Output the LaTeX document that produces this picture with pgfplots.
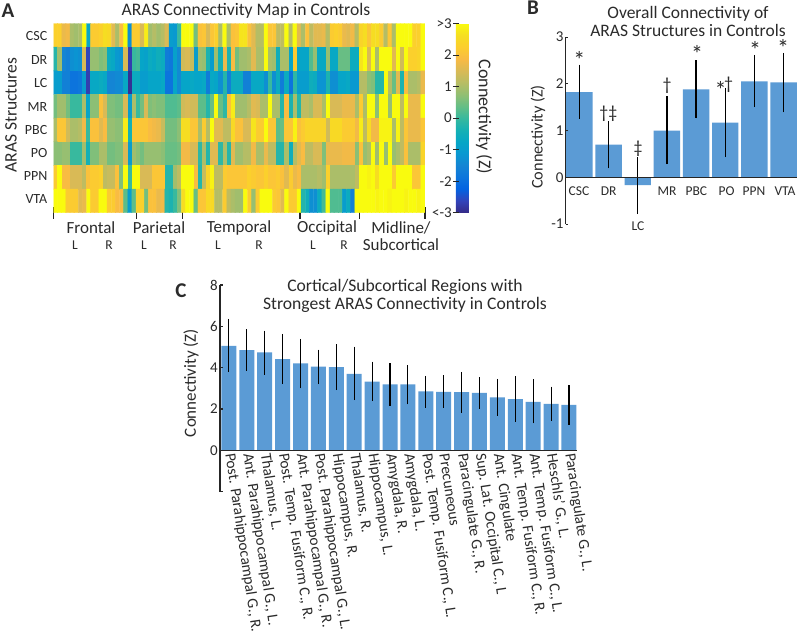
\documentclass[border=0pt]{standalone}
\usepackage{fontspec}
\setmainfont{Carlito}
\usepackage{pgfplots}
\usepackage{pgfplotstable}
\pgfplotsset{compat=1.18}
\definecolor{barblue}{HTML}{5B9BD5}
\definecolor{txt}{HTML}{2B2B2B}
\pgfplotsset{colormap={parula}{
 rgb=(.2081,.1663,.5292) rgb=(.1959,.2645,.7279) rgb=(.0117,.3875,.8820) rgb=(.0498,.4586,.8641)
 rgb=(.0793,.5200,.8312) rgb=(.0343,.5966,.8199) rgb=(.0228,.6535,.7768) rgb=(.0843,.6928,.7062)
 rgb=(.2178,.7250,.6193) rgb=(.3953,.7459,.5244) rgb=(.5709,.7485,.4494) rgb=(.7184,.7411,.3905)
 rgb=(.8507,.7299,.3360) rgb=(.9739,.7314,.2666) rgb=(.9880,.8066,.1794) rgb=(.9626,.8705,.1309)
 rgb=(.9763,.9831,.0538)}}
% overall connectivity per structure
\pgfplotstableread{
x y ep em
0 1.82 .59 .57
1 .70 .50 .51
2 -.17 .60 .62
3 1.00 .73 .72
4 1.88 .62 .62
5 1.17 .74 .74
6 2.05 .57 .55
7 2.03 .63 .64
}\tabB
% strongest regions
\pgfplotstableread{
x y ep em
0 5.06 1.30 1.27
1 4.85 1.01 1.00
2 4.74 1.05 1.08
3 4.42 1.21 1.22
4 4.21 1.18 1.21
5 4.05 .82 .85
6 4.03 1.10 1.12
7 3.70 1.32 1.27
8 3.33 .96 .95
9 3.19 1.03 1.04
10 3.19 .92 .96
11 2.85 .76 .78
12 2.83 .81 .78
13 2.82 .98 1.01
14 2.78 .76 .76
15 2.56 .90 .89
16 2.48 1.10 1.10
17 2.35 1.08 1.04
18 2.25 .84 .81
19 2.20 .97 .97
}\tabC
\begin{document}
\begin{tikzpicture}[x=1pt,y=-1pt,every node/.style={text=txt}]
\path[use as bounding box,fill=white] (0,0) rectangle (800,635);

% A: heatmap, 8 structures x 90 regions
\begin{axis}[
  at={(53.5pt,-212.7pt)},anchor=south west,
  scale only axis,width=371.5pt,height=189.2pt,
  xmin=-.5,xmax=89.5,ymin=-.5,ymax=7.5,y dir=reverse,
  axis line style={draw=none},
  ytick=\empty,
  xtick={-.5,19.7,30.8,59.2,73.7,89.5},xticklabels={},
  tick style={black!85,line width=1.2pt},major tick length=12pt,tick align=center,
  xtick pos=bottom,
  point meta min=-3,point meta max=3,
  colorbar,
  colorbar style={
    at={(1.0834,1)},anchor=north west,
    scale only axis,width=13pt,height=189.2pt,
    axis line style={draw=none},
    ytick={-3,-2,-1,0,1,2,3},
    yticklabels={<-3,-2,-1,0,1,2,>3},
    yticklabel pos=left,
    tick align=center,major tick length=6pt,
    tick style={black!85,line width=1pt},
    ytick pos=left,
    yticklabel style={font=\fontsize{15}{15}\selectfont,text=txt,inner sep=1pt},
  },
]
\addplot[matrix plot*,point meta=explicit,mesh/cols=90,mesh/ordering=x varies]
 table[header=false,row sep=\\,meta index=0,x expr={mod(\coordindex,90)},y expr={int((\coordindex+.5)/90)}] {
2.3\\2.3\\1.7\\1.8\\1.0\\.9\\1.0\\3\\-.7\\2.2\\2.2\\2.3\\2.6\\2.5\\1.6\\1.0\\1.9\\3\\-1.3\\2.2\\2.2\\1.5\\2.8\\.9\\1.1\\.9\\1.1\\1.5\\-1.0\\-1.1\\
0\\3\\3\\3\\.5\\2.0\\2.1\\1.5\\2.1\\2.3\\1.0\\3\\1.0\\2.0\\2.1\\2.7\\2.7\\2.0\\1.6\\1.1\\1.1\\3\\2.1\\2.1\\1.2\\1.2\\3\\1.1\\3\\1.6\\
1.0\\2.0\\1.2\\1.6\\1.6\\1.7\\1.1\\2.2\\2.3\\2.2\\1.7\\1.6\\1.8\\1.1\\2.4\\2.6\\2.1\\2.6\\2.6\\2.2\\1.1\\2.1\\1.0\\3\\3\\3\\3\\2.3\\2.3\\3\\
-.2\\.9\\-1.5\\-1.6\\-1.3\\-1.2\\-1.3\\1.5\\-2.6\\.8\\.8\\.6\\.7\\-.6\\-.7\\-1.1\\-1.2\\1.5\\-2.7\\0\\.1\\-.8\\-.9\\-.6\\-.7\\-.5\\-.6\\-1.7\\-1.8\\-.9\\
-1.4\\1.4\\1.5\\1.3\\-1.0\\.9\\.8\\-.3\\-1.0\\.9\\-.4\\1.7\\-.3\\1.9\\.5\\.9\\.9\\1.0\\1.6\\1.0\\1.0\\3\\1.0\\.9\\-.5\\1.0\\1.0\\-.8\\2.2\\-.8\\
-.8\\-.8\\.2\\.8\\-.7\\-.7\\.8\\-.7\\-.7\\.4\\.4\\.4\\-.6\\-.6\\2.7\\3\\1.5\\3\\1.0\\3\\3\\3\\1.6\\3\\1.4\\3\\2.3\\2.3\\2.4\\3\\
-1.0\\-1.0\\-1.6\\-1.6\\-1.9\\-1.9\\-1.8\\-1.0\\-2.7\\-.7\\-.7\\-.6\\-.7\\-1.5\\-1.5\\-1.4\\-1.4\\-.7\\-2.9\\-.6\\-.6\\-1.0\\-1.0\\-.8\\-.8\\-.8\\-.7\\-1.9\\-1.9\\-.8\\
-1.4\\-.8\\-.8\\-.7\\-.8\\-.8\\-.7\\-1.7\\-.7\\-.8\\-1.3\\-.2\\-1.6\\-.6\\-.6\\-.6\\-1.6\\-1.6\\-.7\\-.7\\-.7\\-1.3\\0\\-1.3\\-.6\\-1.7\\-.6\\-1.9\\-.1\\-1.0\\
-1.0\\-1.0\\-.5\\-.6\\-1.2\\-1.2\\-.3\\-1.3\\-1.3\\-.8\\-.8\\-.7\\-1.1\\-1.1\\1.1\\1.1\\.7\\.6\\-.2\\-.2\\3\\1.1\\.4\\1.6\\-.3\\1.9\\1.0\\1.0\\1.1\\1.7\\
.5\\.9\\.9\\.5\\0\\0\\0\\1.0\\-.8\\.7\\.7\\2.0\\1.5\\.6\\.6\\.5\\.5\\1.5\\-1.0\\1.0\\0\\.5\\1.5\\.6\\.7\\.6\\.6\\.2\\.2\\.2\\
.3\\1.4\\1.5\\1.4\\1.4\\.3\\.3\\-.2\\.4\\3\\.4\\-.1\\2.0\\2.8\\.9\\.9\\.9\\1.1\\1.6\\1.5\\1.0\\1.0\\3\\1.0\\1.0\\-.2\\1.9\\-.3\\1.0\\-.2\\
1.2\\1.2\\1.0\\1.5\\1.5\\1.0\\3\\1.5\\1.5\\1.5\\1.7\\1.7\\1.7\\1.0\\2.2\\1.0\\3\\3\\.7\\3\\3\\.8\\3\\3\\1.2\\3\\1.7\\1.7\\1.7\\3\\
1.0\\2.1\\2.1\\1.4\\1.0\\1.0\\1.1\\1.8\\0\\2.0\\2.0\\1.6\\1.9\\.8\\.8\\.7\\.7\\2.8\\-.4\\2.1\\2.1\\2.1\\2.1\\1.9\\1.8\\1.7\\1.3\\.5\\.5\\.5\\
.7\\2.6\\2.6\\2.1\\2.1\\1.0\\2.2\\1.1\\3\\1.6\\1.6\\1.2\\1.2\\2.5\\2.0\\2.0\\1.5\\1.5\\2.7\\2.2\\2.2\\3\\2.1\\2.1\\.3\\.4\\2.1\\2.1\\2.9\\2.0\\
2.2\\2.4\\2.4\\2.4\\2.4\\2.4\\1.4\\2.5\\2.5\\2.5\\2.2\\2.2\\2.2\\1.8\\2.8\\1.2\\2.6\\1.8\\1.8\\2.9\\2.9\\2.9\\1.0\\2.9\\1.2\\2.1\\1.7\\1.7\\1.7\\2.1\\
.7\\.7\\.8\\.8\\0\\0\\0\\.9\\-.4\\.6\\.6\\1.0\\1.0\\.5\\.5\\.6\\.6\\1.5\\-1.0\\.9\\.7\\.5\\.8\\.8\\.8\\.8\\.7\\.4\\.4\\.4\\
.5\\1.8\\1.8\\1.5\\1.5\\-.1\\1.0\\-.2\\1.6\\1.6\\-.1\\1.0\\-.2\\1.6\\.9\\.9\\1.1\\1.1\\1.8\\1.0\\1.0\\1.7\\1.2\\1.2\\-.2\\-.2\\1.0\\-.5\\1.1\\1.6\\
1.9\\1.2\\1.2\\1.5\\1.5\\.6\\1.7\\1.7\\1.7\\1.7\\1.8\\1.8\\1.8\\.7\\2.0\\.8\\1.0\\3\\.9\\3\\.8\\3\\.8\\1.0\\1.2\\2.0\\1.0\\1.0\\1.0\\2.4\\
2.2\\3\\1.9\\1.9\\1.5\\1.5\\1.5\\1.2\\2.0\\2.2\\2.2\\2.3\\1.2\\1.3\\1.3\\2.0\\.6\\3\\0\\3\\3\\1.5\\1.5\\1.5\\2.1\\2.1\\2.1\\-.2\\-.2\\.9\\
1.2\\3\\3\\3\\1.9\\-.2\\1.3\\2.4\\2.9\\1.2\\1.2\\2.2\\2.1\\2.1\\2.1\\2.1\\2.1\\2.3\\2.2\\2.1\\2.1\\2.3\\2.1\\2.1\\2.2\\2.0\\1.6\\2.2\\1.7\\1.9\\
1.0\\1.0\\1.0\\1.0\\1.1\\.9\\2.3\\1.0\\1.0\\1.0\\1.0\\1.0\\1.0\\1.2\\3\\3\\2.9\\3\\2.6\\3\\3\\3\\2.2\\3\\3\\3\\3\\2.1\\2.1\\3\\
3\\3\\3\\2.2\\2.2\\2.2\\1.6\\1.7\\3\\2.2\\2.2\\3\\3\\2.2\\2.2\\1.9\\1.9\\.3\\-1.0\\.3\\2.3\\2.3\\.5\\2.0\\2.0\\1.7\\1.8\\-.2\\-.3\\0\\
.6\\2.6\\3\\3\\.4\\2.1\\2.1\\2.5\\2.5\\1.1\\1.1\\2.2\\1.2\\1.0\\.9\\.9\\3\\2.2\\.8\\2.2\\3\\3\\3\\2.2\\2.1\\1.6\\3\\2.2\\2.2\\3\\
-.2\\-.5\\-1.3\\-1.3\\-.6\\.1\\3\\.2\\.2\\.2\\-1.0\\-.6\\-1.6\\3\\3\\3\\3\\3\\2.9\\3\\3\\2.9\\3\\3\\3\\2.9\\3\\3\\2.9\\3\\
};
\end{axis}

% B: overall connectivity
\begin{axis}[
  at={(565.7pt,-224pt)},anchor=south west,
  scale only axis,width=231.6pt,height=187pt,
  xmin=-.47,xmax=7.47,ymin=-1,ymax=3,
  axis y line=left,axis x line=middle,
  axis line style={-,black!85,line width=1.2pt},
  xtick=\empty,
  ytick={-1,0,1,2,3},yticklabels={-1,0,1,2,3},
  yticklabel style={font=\fontsize{15}{15}\selectfont,text=txt,inner sep=2pt},
  tick style={black!85,line width=1pt},major tick length=2.5pt,tick align=inside,
  axis on top,clip=false,
]
\addplot[ybar,bar width=26.4pt,bar shift=0pt,fill=barblue,draw=none,
  error bars/.cd,y dir=both,y explicit,error mark=none,
  error bar style={black,line width=1.3pt}]
  table[x=x,y=y,y error plus=ep,y error minus=em] {\tabB};
\end{axis}
\foreach \lx/\ly/\t in {579/190.7/CSC,608.7/190.7/DR,638/226/LC,667/190.7/MR,696.3/190.7/PBC,726.5/190.7/PO,754/190.7/PPN,785/190.7/VTA}
  \node[font=\fontsize{13.5}{13.5}\selectfont] at (\lx,\ly) {\t};
\foreach \lx/\ly/\t in {608.3/114/†‡,638/149/‡,667/86/†,728.5/85/†}
  \node[font=\fontsize{18}{18}\selectfont,inner sep=0pt] at (\lx,\ly) {\t};
\foreach \lx/\ly in {579.3/60,697/54,720.5/90,755/50,783/48}
  \node[font=\fontsize{24}{24}\selectfont,inner sep=0pt] at (\lx,\ly) {*};

% C: strongest regions
\begin{axis}[
  at={(220pt,-491.7pt)},anchor=south west,
  scale only axis,width=357pt,height=206.7pt,
  xmin=-.5,xmax=19.45,ymin=-2,ymax=8,
  axis y line=left,axis x line=middle,
  axis line style={-,black!85,line width=1.4pt},
  xtick={0,...,19},
  xticklabels={{Post. Parahippocampal G., R.},{Ant. Parahippocampal G., L.},{Thalamus, L.},{Post. Temp. Fusiform C., R.},{Ant. Parahippocampal G., R.},{Post. Parahippocampal G., L.},{Hippocampus, R.},{Thalamus, R.},{Hippocampus, L.},{Amygdala, R.},{Amygdala, L.},{Post. Temp. Fusiform C., L.},{Precuneous},{Paracingulate G., R.},{Sup. Lat. Occipital C., L},{Ant. Cingulate},{Ant. Temp. Fusiform C., R.},{Ant. Temp. Fusiform C., L.},{Heschls' G., L.},{Paracingulate G., L.}},
  xticklabel style={rotate=-81.5,anchor=west,inner sep=0pt,font=\fontsize{15.4}{15.4}\selectfont,text=txt,xshift=3pt},
  x tick style={draw=none},
  ytick={-2,0,2,4,6,8},yticklabels={,0,2,4,6,8},
  yticklabel style={font=\fontsize{15}{15}\selectfont,text=txt,inner sep=2pt},
  y tick style={black!85,line width=1.2pt},major tick length=3pt,tick align=inside,
  axis on top,clip=false,
]
\addplot[ybar,bar width=15pt,bar shift=0pt,fill=barblue,draw=none,
  error bars/.cd,y dir=both,y explicit,error mark=none,
  error bar style={black,line width=1.1pt}]
  table[x=x,y=y,y error plus=ep,y error minus=em] {\tabC};
\end{axis}

% text
\node[font=\fontsize{17.6}{17.6}\selectfont] at (246,11) {ARAS Connectivity Map in Controls};
\node[font=\bfseries\fontsize{21}{21}\selectfont] at (8,11) {A};
\node[font=\bfseries\fontsize{21}{21}\selectfont] at (533,8) {B};
\node[font=\bfseries\fontsize{21}{21}\selectfont] at (181,291) {C};
\node[font=\fontsize{17.5}{17.5}\selectfont,rotate=90] at (11,115) {ARAS Structures};
\foreach \ly/\t in {36/CSC,60/DR,83.5/LC,107/MR,130.5/PBC,153.5/PO,176/PPN,199.5/VTA}
  \node[font=\fontsize{14}{14}\selectfont,anchor=east,inner sep=0pt] at (47.5,\ly) {\t};
\foreach \lx/\t in {91/Frontal,159/Parietal,239/Temporal,327/Occipital}
  \node[font=\fontsize{17}{17}\selectfont] at (\lx,228) {\t};
\node[font=\fontsize{17}{17}\selectfont] at (401,228) {Midline/};
\node[font=\fontsize{17}{17}\selectfont] at (401,245) {Subcortical};
\foreach \lx/\t in {75/L,109/R,144/L,173/R,218/L,259/R,313/L,344/R}
  \node[font=\fontsize{13.5}{13.5}\selectfont] at (\lx,245) {\t};
\node[font=\fontsize{18}{18}\selectfont,rotate=-90] at (484,117) {Connectivity (Z)};
\node[font=\fontsize{17.5}{17.5}\selectfont,align=center,inner sep=0pt] at (688,21.5) {Overall Connectivity of\\[0pt]ARAS Structures in Controls};
\node[font=\fontsize{16.3}{16.3}\selectfont,rotate=90] at (538,137) {Connectivity (Z)};
\node[font=\fontsize{17.6}{17.6}\selectfont,align=center,inner sep=0pt] at (405,296) {Cortical/Subcortical Regions with\\[0pt]Strongest ARAS Connectivity in Controls};
\node[font=\fontsize{17}{17}\selectfont,rotate=90] at (191,383) {Connectivity (Z)};
\end{tikzpicture}
\end{document}
